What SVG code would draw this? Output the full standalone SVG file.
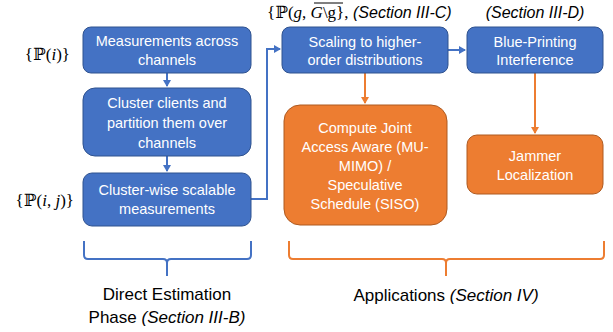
<svg xmlns="http://www.w3.org/2000/svg" width="613" height="332" viewBox="0 0 613 332">
<defs>
<marker id="ab" markerWidth="8" markerHeight="8" refX="6" refY="4" orient="auto" markerUnits="userSpaceOnUse"><path d="M0,0 L7,4 L0,8 Z" fill="#4472C4"/></marker>
<marker id="ao" markerWidth="8" markerHeight="8" refX="6" refY="4" orient="auto" markerUnits="userSpaceOnUse"><path d="M0,0 L7,4 L0,8 Z" fill="#ED7D31"/></marker>
</defs>
<style>
.b{fill:#4472C4;stroke:#2F528F;stroke-width:1}
.o{fill:#ED7D31;stroke:#AE5A21;stroke-width:1}
.t{font-family:"Liberation Sans",Arial,sans-serif;font-size:14.5px;fill:#fff;text-anchor:middle}
.lb{fill:none;stroke:#4472C4;stroke-width:2}
.lo{fill:none;stroke:#ED7D31;stroke-width:2}
.m{font-family:"Liberation Serif","DejaVu Serif",serif;font-size:17px;fill:#000}
.s{font-family:"Liberation Sans",Arial,sans-serif;font-size:16px;fill:#000;font-style:italic}
.c{font-family:"Liberation Sans",Arial,sans-serif;font-size:17px;fill:#000;text-anchor:middle}
</style>
<rect width="613" height="332" fill="#fff"/>
<g id="connectors">
<path class="lb" d="M167,73 V86" marker-end="url(#ab)"/>
<path class="lb" d="M167,156 V171" marker-end="url(#ab)"/>
<path class="lb" d="M251,199 H267 V49 H280" marker-end="url(#ab)"/>
<path class="lb" d="M448,50 H465" marker-end="url(#ab)"/>
<path class="lo" d="M365,73 V103" marker-end="url(#ao)"/>
<path class="lo" d="M535,73 V133" marker-end="url(#ao)"/>
</g>
<g id="n1"><rect class="b" x="83" y="27" width="168" height="46" rx="8"/><text class="t" x="167" y="46">Measurements across</text><text class="t" x="167" y="65">channels</text></g>
<g id="n2"><rect class="b" x="83" y="88" width="168" height="68" rx="12"/><text class="t" x="167" y="108">Cluster clients and</text><text class="t" x="167" y="128">partition them over</text><text class="t" x="167" y="148">channels</text></g>
<g id="n3"><rect class="b" x="83" y="173" width="168" height="53" rx="9"/><text class="t" x="167" y="195">Cluster-wise scalable</text><text class="t" x="167" y="214">measurements</text></g>
<g id="n4"><rect class="b" x="282" y="27" width="166" height="46" rx="8"/><text class="t" x="365" y="47">Scaling to higher-</text><text class="t" x="365" y="65">order distributions</text></g>
<g id="n5"><rect class="b" x="467" y="27" width="136" height="46" rx="8"/><text class="t" x="535" y="47">Blue-Printing</text><text class="t" x="535" y="65">Interference</text></g>
<g id="n6"><rect class="o" x="284" y="105" width="163" height="120" rx="16"/><text class="t" x="365" y="133">Compute Joint</text><text class="t" x="365" y="152">Access Aware (MU-</text><text class="t" x="365" y="171">MIMO) /</text><text class="t" x="365" y="190">Speculative</text><text class="t" x="365" y="209">Schedule (SISO)</text></g>
<g id="n7"><rect class="o" x="467" y="135" width="136" height="59" rx="10"/><text class="t" x="535" y="161">Jammer</text><text class="t" x="535" y="180">Localization</text></g>
<g id="labels">
<text class="m" x="70" y="60" text-anchor="end">{ℙ(<tspan font-style="italic">i</tspan>)}</text>
<text class="m" x="74" y="206" text-anchor="end">{ℙ(<tspan font-style="italic">i</tspan>, <tspan font-style="italic">j</tspan>)}</text>
<text class="m" x="267" y="18">{ℙ(<tspan font-style="italic">g</tspan>, <tspan font-style="italic">G</tspan>\g},<tspan class="s" font-size="16px"> (Section III-C)</tspan></text>
<line x1="314" y1="3" x2="343" y2="3" stroke="#000" stroke-width="1"/>
<text class="s" x="535" y="18" text-anchor="middle">(Section III-D)</text>
</g>
<g id="braces">
<path class="lb" d="M84,241 V255 Q84,259 88,259 H163 Q167,259 167,263 V276 M167,263 Q167,259 171,259 H247 Q251,259 251,255 V241"/>
<path class="lo" d="M289,241 V255 Q289,259 293,259 H442 Q446,259 446,263 V276 M446,263 Q446,259 450,259 H600 Q604,259 604,255 V241"/>
</g>
<text class="c" x="167" y="300">Direct Estimation</text>
<text class="c" x="167" y="323">Phase <tspan font-style="italic">(Section III-B)</tspan></text>
<text class="c" x="446" y="301">Applications <tspan font-style="italic">(Section IV)</tspan></text>
</svg>
